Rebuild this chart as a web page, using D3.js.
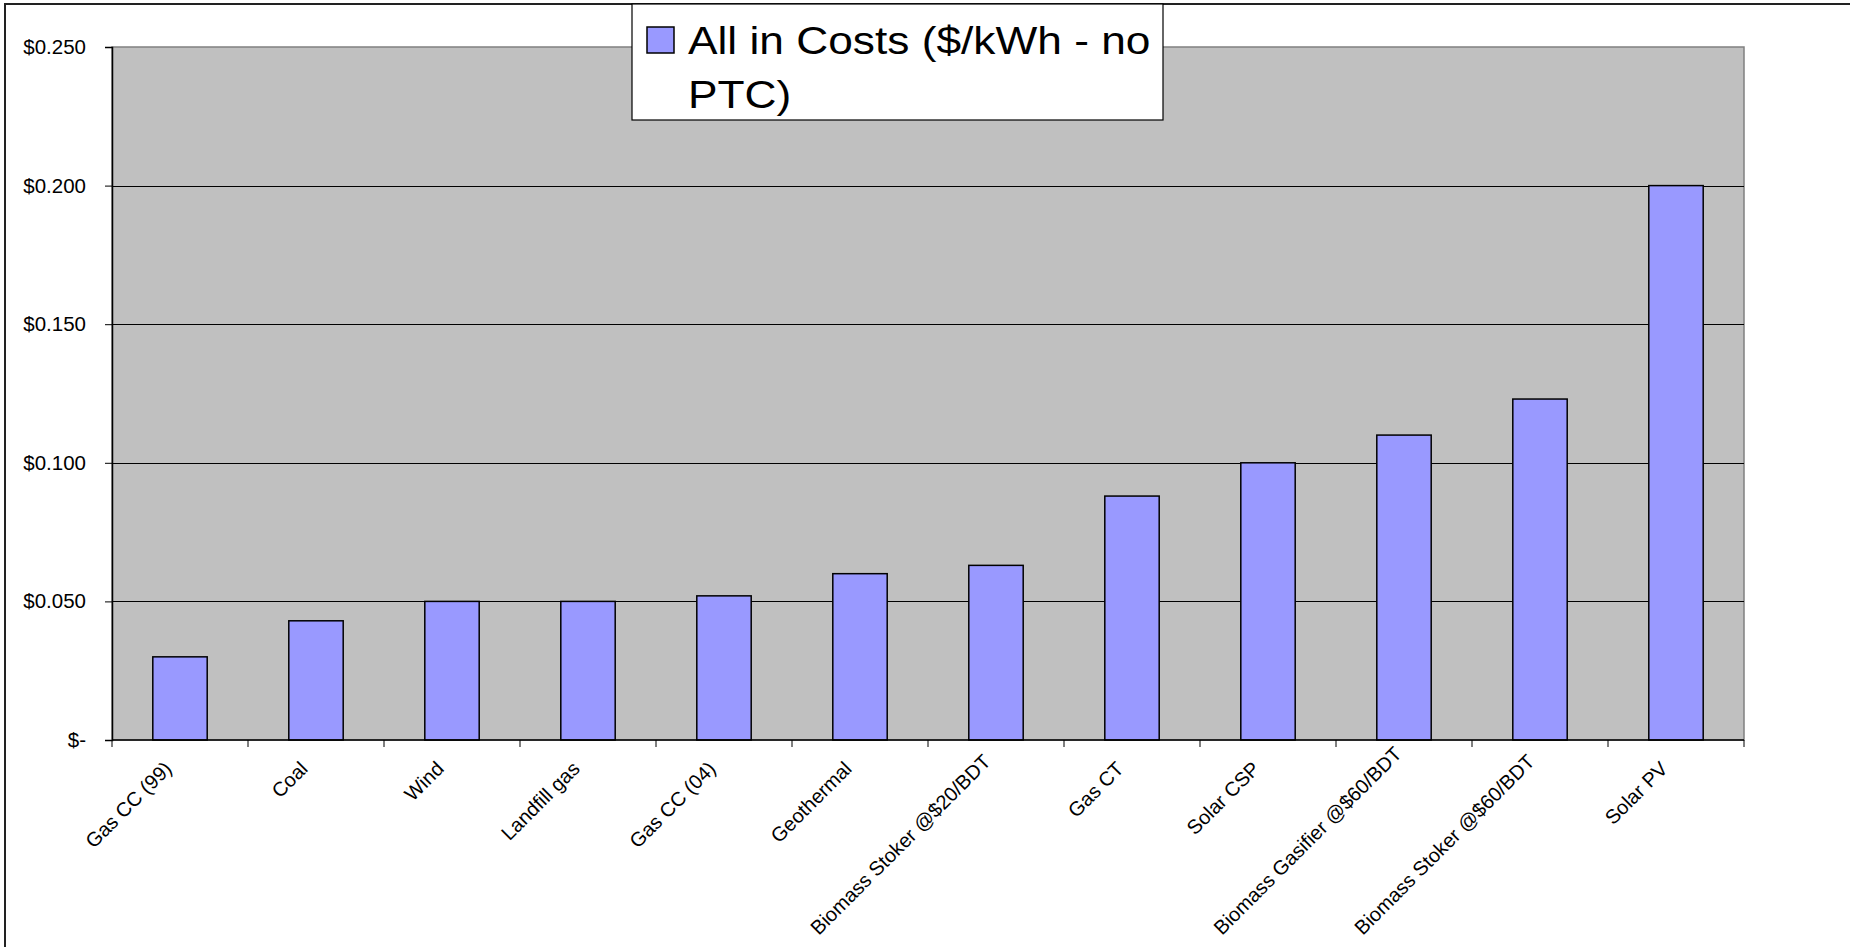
<!DOCTYPE html>
<html>
<head>
<meta charset="utf-8">
<script src="https://cdn.jsdelivr.net/npm/d3@7/dist/d3.min.js"></script>
<style>
  html, body { margin: 0; padding: 0; background: #fff; overflow: hidden; }
  svg { display: block; }
  text { font-family: "Liberation Sans", Arial, sans-serif; fill: #000; }
</style>
</head>
<body>
<svg id="chart" width="1850" height="947"></svg>
<script>
const categories = ["Gas CC (99)", "Coal", "Wind", "Landfill gas", "Gas CC (04)", "Geothermal",
  "Biomass Stoker @$20/BDT", "Gas CT", "Solar CSP", "Biomass Gasifier @$60/BDT",
  "Biomass Stoker @$60/BDT", "Solar PV"];
const values = [0.030, 0.043, 0.050, 0.050, 0.052, 0.060, 0.063, 0.088, 0.100, 0.110, 0.123, 0.200];
const yTicks = [0, 0.05, 0.10, 0.15, 0.20, 0.25];
const yTickLabels = ["$-", "$0.050", "$0.100", "$0.150", "$0.200", "$0.250"];
const seriesName = ["All in Costs ($/kWh - no", "PTC)"];

(function () {
const svg = d3.select("#chart");
const W = 1850, H = 947;
const pLeft = 112, pRight = 1744, pTop = 47, pBottom = 740;

svg.append("rect").attr("x", 0).attr("y", 0).attr("width", W).attr("height", H).attr("fill", "#fff");
// outer chart border (extends past the right/bottom edges)
svg.append("rect").attr("x", 5).attr("y", 4).attr("width", 1900).attr("height", 1000)
  .attr("fill", "none").attr("stroke", "#222").attr("stroke-width", 2);

const x = d3.scaleBand().domain(categories).range([pLeft, pRight]).paddingInner(0.6).paddingOuter(0.3);
const y = d3.scaleLinear().domain([0, 0.25]).range([pBottom, pTop]);

// plot area
svg.append("rect").attr("x", pLeft).attr("y", pTop).attr("width", pRight - pLeft).attr("height", pBottom - pTop)
  .attr("fill", "#C0C0C0").attr("stroke", "#808080").attr("stroke-width", 1.5);

// gridlines
svg.append("g").selectAll("line").data(yTicks.filter(d => d > 0 && d < 0.25)).join("line")
  .attr("x1", pLeft).attr("x2", pRight)
  .attr("y1", d => Math.round(y(d)) + 0.5).attr("y2", d => Math.round(y(d)) + 0.5)
  .attr("stroke", "#000").attr("stroke-width", 1);

// bars
svg.append("g").selectAll("rect").data(values).join("rect")
  .attr("x", (d, i) => x(categories[i]))
  .attr("y", d => y(d))
  .attr("width", x.bandwidth())
  .attr("height", d => pBottom - y(d))
  .attr("fill", "#9999FF").attr("stroke", "#000").attr("stroke-width", 1.5);

// y axis
const yAxis = d3.axisLeft(y).tickValues(yTicks).tickSize(7).tickPadding(19)
  .tickFormat((d, i) => yTickLabels[i]);
const gy = svg.append("g").attr("transform", `translate(${pLeft},0)`).call(yAxis);
gy.select(".domain").attr("stroke", "#000").attr("stroke-width", 1.5);
gy.selectAll(".tick line").attr("stroke", "#000");
gy.selectAll(".tick text").attr("font-size", 20.5).attr("font-family", "Liberation Sans, Arial, sans-serif")
  .attr("fill", "#000");

// x axis: ticks at category boundaries
const step = x.step();
const boundaries = d3.range(categories.length + 1).map(i => pLeft + i * step);
const gx = svg.append("g");
gx.append("line").attr("x1", pLeft).attr("x2", pRight).attr("y1", pBottom).attr("y2", pBottom)
  .attr("stroke", "#000").attr("stroke-width", 1.5);
gx.selectAll("line.tk").data(boundaries).join("line").attr("class", "tk")
  .attr("x1", d => d).attr("x2", d => d).attr("y1", pBottom).attr("y2", pBottom + 7)
  .attr("stroke", "#000");
const labelLimit = 936;
gx.selectAll("text").data(categories).join("text")
  .attr("text-anchor", "end")
  .attr("font-size", 20)
  .text(d => d)
  .each(function (d) {
    const L = this.getComputedTextLength();
    let bx = x(d) + x.bandwidth() / 2 - 7;
    let by = pBottom + 30;
    const over = by + 0.707 * L - labelLimit;
    if (over > 0) { by -= over; bx += over * 0.4; }
    d3.select(this).attr("transform", `translate(${bx},${by}) rotate(-45)`);
  });

// legend
const lg = svg.append("g");
lg.append("rect").attr("x", 632).attr("y", 4).attr("width", 531).attr("height", 116)
  .attr("fill", "#fff").attr("stroke", "#000").attr("stroke-width", 1.2);
lg.append("rect").attr("x", 647).attr("y", 27).attr("width", 27).attr("height", 26)
  .attr("fill", "#9999FF").attr("stroke", "#000").attr("stroke-width", 1.5);
lg.selectAll("text").data(seriesName).join("text")
  .attr("transform", (d, i) => `translate(688,${54 + i * 54}) scale(1.165,1)`)
  .attr("font-size", 38)
  .text(d => d);
})();
</script>
</body>
</html>
